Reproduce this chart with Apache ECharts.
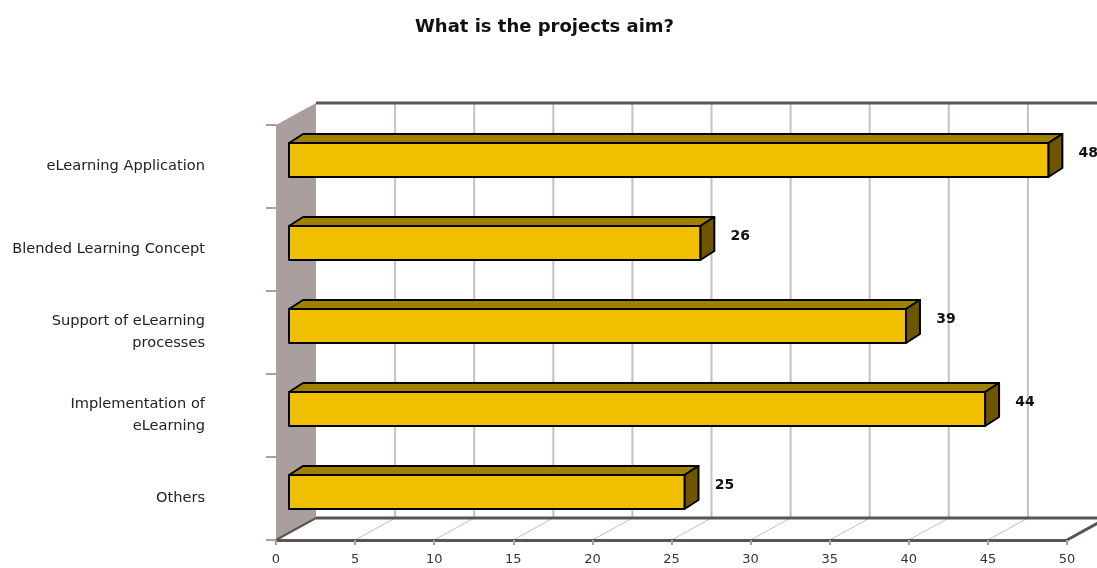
<!DOCTYPE html>
<html>
<head>
<meta charset="utf-8">
<script src="https://cdn.jsdelivr.net/npm/echarts@6/dist/echarts.min.js"></script>
<style>html,body{margin:0;padding:0;background:#fff;}#c{width:1097px;height:568px;}</style>
</head>
<body>
<div id="c"></div>
<script>
const title = 'What is the projects aim?';
const categories = ['eLearning Application', 'Blended Learning Concept', 'Support of eLearning\nprocesses', 'Implementation of\neLearning', 'Others'];
const values = [48, 26, 39, 44, 25];
const xMin = 0, xMax = 50, xStep = 5;

const FONT = '"DejaVu Sans", "Liberation Sans", Arial, sans-serif';
const DX = 40, DY = -22;          // depth of the chart box
const WALL = '#a99f9f', FRAME = '#5e5353', GRID = '#c8c0c0';

function renderFrame(params, api) {
  const cs = params.coordSys;
  const L = cs.x, T = cs.y, R = cs.x + cs.width, B = cs.y + cs.height;
  const ch = [];
  ch.push({type: 'polygon', shape: {points: [[L + DX, T + DY], [R + DX, T + DY], [R + DX, B + DY], [L + DX, B + DY]]}, style: {fill: '#fff'}});
  ch.push({type: 'polygon', shape: {points: [[L, B], [L + DX, B + DY], [R + DX, B + DY], [R, B]]}, style: {fill: '#fff'}});
  ch.push({type: 'polygon', shape: {points: [[L, T], [L + DX, T + DY], [L + DX, B + DY], [L, B]]}, style: {fill: WALL}});
  for (let v = xMin + xStep; v < xMax; v += xStep) {
    const x = api.coord([v, 0])[0];
    ch.push({type: 'line', shape: {x1: x + DX, y1: T + DY, x2: x + DX, y2: B + DY}, style: {stroke: GRID, lineWidth: 2}});
    ch.push({type: 'line', shape: {x1: x, y1: B, x2: x + DX, y2: B + DY}, style: {stroke: GRID, lineWidth: 1}});
  }
  ch.push({type: 'line', shape: {x1: L + DX, y1: T + DY, x2: R + DX + 10, y2: T + DY}, style: {stroke: FRAME, lineWidth: 3}});
  ch.push({type: 'line', shape: {x1: L + DX, y1: B + DY, x2: R + DX + 10, y2: B + DY}, style: {stroke: FRAME, lineWidth: 3}});
  ch.push({type: 'line', shape: {x1: R, y1: B, x2: R + DX, y2: B + DY}, style: {stroke: FRAME, lineWidth: 3}});
  ch.push({type: 'line', shape: {x1: L, y1: B, x2: L + DX, y2: B + DY}, style: {stroke: FRAME, lineWidth: 2}});
  return {type: 'group', children: ch};
}

function renderBar(params, api) {
  const v = api.value(0), c = api.value(1);
  const p0 = api.coord([0, c]), p1 = api.coord([v, c]);
  const band = api.size([0, 1])[1];
  const h = band * 0.41;
  const fx = 13, fy = -6.5, dx = 14, dy = -9;
  const x0 = p0[0] + fx, x1 = p1[0] + fx;
  const yc = p0[1] + fy, yt = yc - h / 2, yb = yc + h / 2;
  const st = {stroke: '#000', lineWidth: 2, lineJoin: 'round'};
  return {type: 'group', children: [
    {type: 'polygon', shape: {points: [[x0, yt], [x0 + dx, yt + dy], [x1 + dx, yt + dy], [x1, yt]]}, style: Object.assign({fill: '#a08000'}, st)},
    {type: 'polygon', shape: {points: [[x1, yt], [x1 + dx, yt + dy], [x1 + dx, yb + dy], [x1, yb]]}, style: Object.assign({fill: '#6e5600'}, st)},
    {type: 'rect', shape: {x: x0, y: yt, width: x1 - x0, height: h}, style: Object.assign({fill: '#f0c000'}, st)},
    {type: 'text', x: p1[0] + 53, y: yc - 7, style: {text: String(v), fill: '#111', font: 'bold 14px ' + FONT, textAlign: 'center', textVerticalAlign: 'middle'}}
  ]};
}

const chart = echarts.init(document.getElementById('c'), null, {renderer: 'canvas'});
chart.setOption({
  animation: false,
  title: {text: title, left: 410, top: 13, textStyle: {fontFamily: FONT, fontSize: 18, fontWeight: 'bold', color: '#111'}},
  grid: {left: 276, right: 30, top: 125, bottom: 28, containLabel: false},
  xAxis: {
    type: 'value', min: xMin, max: xMax, interval: xStep, z: 10,
    axisLine: {show: true, lineStyle: {color: FRAME, width: 3}},
    axisTick: {show: true, length: 5, lineStyle: {color: '#a99f9f', width: 2}},
    splitLine: {show: false},
    axisLabel: {margin: 13, fontFamily: FONT, fontSize: 13, color: '#333'}
  },
  yAxis: {
    type: 'category', data: categories, inverse: true, z: 10,
    axisLine: {show: true, lineStyle: {color: WALL, width: 1}},
    axisTick: {show: true, length: 10, lineStyle: {color: '#a99f9f', width: 2}},
    axisLabel: {margin: 71, align: 'right', fontFamily: FONT, fontSize: 14.6, lineHeight: 22, color: '#222'}
  },
  series: [
    {type: 'custom', name: 'frame', renderItem: renderFrame, data: [[0, 0]], z: 1, silent: true, clip: false},
    {type: 'custom', name: 'bars', renderItem: renderBar, data: values.map((v, i) => [v, i]), encode: {x: 0, y: 1}, z: 3, clip: false}
  ]
});
</script>
</body>
</html>
